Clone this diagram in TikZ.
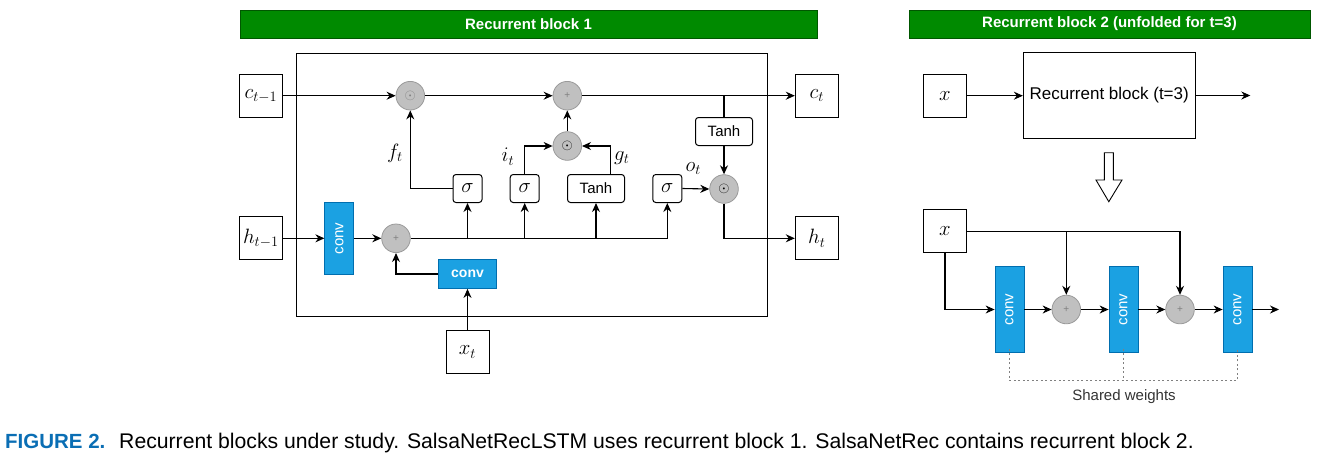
\documentclass[tikz,border=0pt]{standalone}
\usepackage{fontspec}
\setmainfont{Liberation Sans}
\usetikzlibrary{arrows.meta}
\definecolor{bannergreen}{HTML}{008A00}
\definecolor{bannerline}{HTML}{005700}
\definecolor{convblue}{HTML}{1BA1E2}
\definecolor{convline}{HTML}{006EAF}
\definecolor{circfill}{HTML}{C0C0C0}
\definecolor{circline}{HTML}{9A9A9A}
\definecolor{capblue}{HTML}{0A6EB4}
\tikzset{
  mathfont/.style={font=\fontsize{21}{24}\selectfont},
  iobox/.style={draw, line width=1pt, fill=white, minimum width=43pt, minimum height=43pt, inner sep=0pt, mathfont},
  gatebox/.style={draw, line width=1pt, rounded corners=3pt, fill=white, minimum height=28pt, inner sep=0pt},
  opcirc/.style={circle, draw=circline, line width=0.8pt, fill=circfill, minimum size=28.6pt, inner sep=0pt},
  convv/.style={draw=convline, line width=0.8pt, fill=convblue, text=white, minimum width=29pt, inner sep=0pt,
                font=\fontsize{15}{17}\selectfont},
  convtxt/.style={rotate=90, text=white, font=\fontsize{15}{17}\selectfont},
  banner/.style={draw=bannerline, line width=0.8pt, fill=bannergreen, text=white, minimum height=28pt, inner sep=0pt,
                 font=\bfseries\fontsize{15}{17}\selectfont},
  arr/.style={line width=1.1pt, -{Stealth[length=9pt,width=8pt]}},
  ln/.style={line width=1.1pt},
  lbl/.style={mathfont, inner sep=0pt},
  odot/.style={font=\fontsize{14}{14}\selectfont},
  plus/.style={text=gray, font=\fontsize{10}{10}\selectfont},
}
\begin{document}
\begin{tikzpicture}[x=1pt,y=-1pt]
\useasboundingbox (0,0) rectangle (1317,459);

% ===== banners =====
\node[banner, minimum width=577pt] (b1) at (528.5,24) {Recurrent block 1};
\node[banner, minimum width=401pt] (b2) at (1109.5,24) {Recurrent block 2 (unfolded for t=3)};

% ===== block 1 =====
\node[draw, line width=1pt, minimum width=471pt, minimum height=263pt] (blk) at (531.5,184.5) {};

\node[iobox] (cprev) at (260.8,95.7) {$c_{t-1}$};
\node[iobox] (hprev) at (260.8,238.3) {$h_{t-1}$};
\node[iobox] (ct) at (816.8,95.7) {$c_t$};
\node[iobox] (ht) at (816.8,238.3) {$h_t$};
\node[iobox] (xt) at (467.5,352) {$x_t$};

\node[opcirc, odot, text=gray] (m1) at (410.3,95.7) {$\odot$};
\node[opcirc, plus] (a1) at (567.3,95.7) {+};
\node[opcirc, odot] (m2) at (567.3,146) {$\odot$};
\node[opcirc, odot] (m3) at (724,189) {$\odot$};
\node[opcirc, plus] (a0) at (396,238.3) {+};

\node[gatebox, minimum width=29pt, mathfont] (s1) at (467.5,188.5) {$\sigma$};
\node[gatebox, minimum width=29pt, mathfont] (s2) at (524.7,188.5) {$\sigma$};
\node[gatebox, minimum width=57pt, font=\fontsize{15}{17}\selectfont] (t1) at (596,188.5) {Tanh};
\node[gatebox, minimum width=29pt, mathfont] (s3) at (667.3,188.5) {$\sigma$};
\node[gatebox, minimum width=57pt, font=\fontsize{15}{17}\selectfont] (t2) at (724,131.5) {Tanh};

\node[convv, minimum height=72pt] (cva) at (339.3,238.5) {};
\node[convtxt] at (cva) {conv};
\node[draw=convline, line width=0.8pt, fill=convblue, text=white, minimum width=58pt, minimum height=29pt, inner sep=0pt,
      font=\bfseries\fontsize{14}{16}\selectfont] (cvb) at (467.5,274) {conv};

% connectors block 1
\draw[arr] (cprev.east) -- (m1.west);
\draw[arr] (m1.east) -- (a1.west);
\draw[arr] (a1.east) -- (ct.west);
\draw[arr] (hprev.east) -- (cva.west |- hprev.east);
\draw[arr] (cva.east |- a0.west) -- (a0.west);
\draw[arr] (a0.east) -| (s3.south);
\draw[arr] (s1.south |- a0.east) -- (s1.south);
\draw[arr] (s2.south |- a0.east) -- (s2.south);
\draw[arr] (t1.south |- a0.east) -- (t1.south);
\draw[arr] (s1.west) -| (m1.south);
\draw[arr] (s2.north) |- (m2.west);
\draw[arr] ([xshift=14.7pt]t1.north) |- (m2.east);
\draw[arr] (m2.north) -- (a1.south);
\draw[ln] (t2.north |- a1.east) -- (t2.north);
\draw[arr] (t2.south) -- (m3.north);
\draw[arr] (s3.east) -- (m3.west);
\draw[arr] (m3.south) |- (ht.west);
\draw[arr] (cvb.west) -| (a0.south);
\draw[arr] (xt.north) -- (cvb.south);

\node[lbl] (lf) at (395,153) {$f_t$};
\node[lbl] (li) at (508,156.7) {$i_t$};
\node[lbl] (lg) at (621.7,158) {$g_t$};
\node[lbl] (lo) at (693.3,168.3) {$o_t$};

% ===== block 2 =====
\node[iobox] (xa) at (945,95.7) {$x$};
\node[draw, line width=1pt, minimum width=171.7pt, minimum height=85.7pt, inner sep=0pt,
      font=\fontsize{17}{19}\selectfont] (rb) at (1109.2,95.5) {Recurrent block (t=3)};
\coordinate (out1) at (1250.3,95.5);
\draw[arr] (xa.east) -- (rb.west |- xa.east);
\draw[arr] (rb.east) -- (out1);

\draw[line width=0.9pt, fill=white] (1104.3,152.7) -- (1113.3,152.7) -- (1113.3,180) -- (1122,180) -- (1108.8,201.7)
  -- (1096,180) -- (1104.3,180) -- cycle;

\node[iobox] (xb) at (945,231.3) {$x$};
\node[convv, minimum height=85.7pt] (c1) at (1009.5,309.5) {};
\node[convtxt] at (c1) {conv};
\node[convv, minimum height=85.7pt] (c2) at (1123.5,309.5) {};
\node[convtxt] at (c2) {conv};
\node[convv, minimum height=85.7pt] (c3) at (1237.5,309.5) {};
\node[convtxt] at (c3) {conv};
\node[opcirc, plus] (p1) at (1066.3,309.5) {+};
\node[opcirc, plus] (p2) at (1180,309.5) {+};
\coordinate (out2) at (1279,309.5);

\draw[arr] (xb.east) -| (p2.north);
\draw[arr] (p1.north |- xb.east) -- (p1.north);
\draw[arr] (xb.south) |- (c1.west);
\draw[arr] (c1.east) -- (p1.west);
\draw[arr] (p1.east) -- (c2.west);
\draw[arr] (c2.east) -- (p2.west);
\draw[arr] (p2.east) -- (c3.west);
\draw[arr] (c3.east) -- (out2);

\coordinate (dl) at (1009.5,380.5);
\coordinate (dr) at (1237.5,380.5);
\draw[gray, line width=0.9pt, dash pattern=on 2pt off 2.5pt] ([yshift=4pt]c1.south) -- (dl) -- (dr) -- ([yshift=4pt]c3.south);
\draw[gray, line width=0.9pt, dash pattern=on 2pt off 2.5pt] ([yshift=4pt]c2.south) -- (c2.south |- dl);
\node[font=\fontsize{15}{17}\selectfont, text=black!80] (sw) at (1124,396.5) {Shared weights};

% ===== caption =====
\node[anchor=base west, inner sep=0pt, text=capblue, font=\bfseries\fontsize{20.5}{23}\selectfont] (fig) at (5,448) {FIGURE 2.};
\node[anchor=base west, inner sep=0pt, font=\fontsize{21.2}{24}\selectfont] (cap) at (119,448)
  {Recurrent blocks under study. SalsaNetRecLSTM uses recurrent block 1. SalsaNetRec contains recurrent block 2.};
\end{tikzpicture}
\end{document}
